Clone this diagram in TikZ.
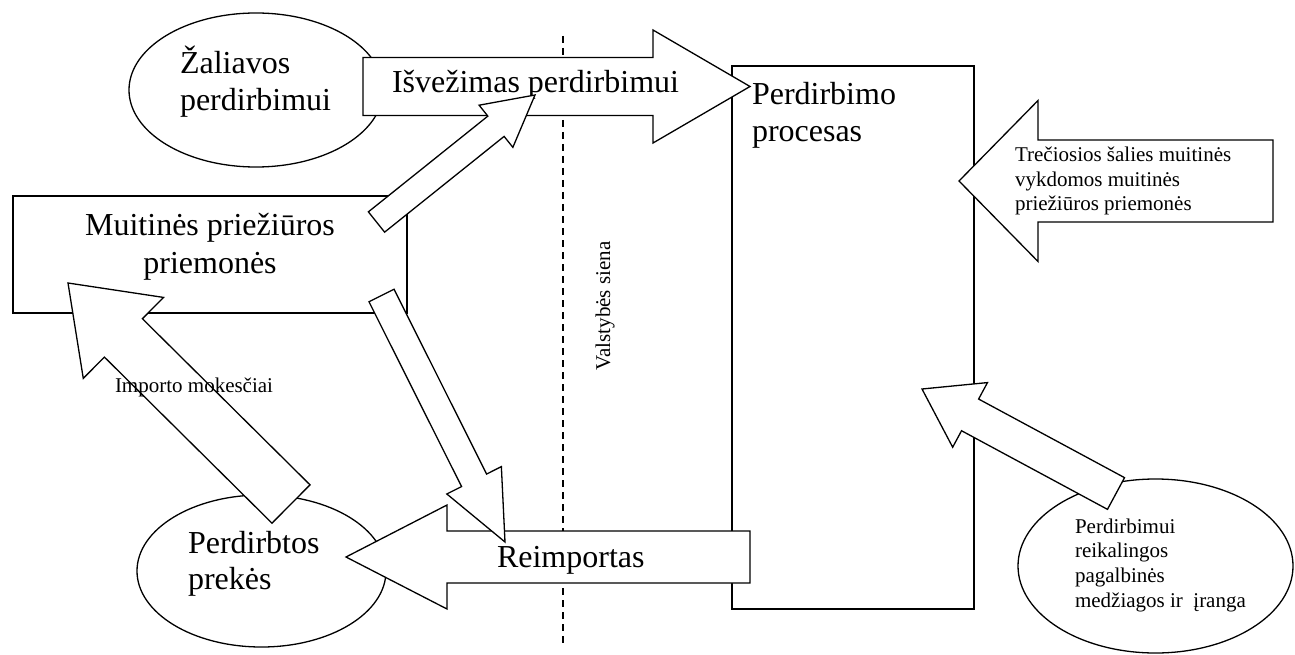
\documentclass[tikz,border=0pt]{standalone}
\usepackage{fontspec}
\setmainfont{Liberation Serif}
\usetikzlibrary{calc,shapes.geometric}

\newcommand\leftlines[2]{\vtop{\baselineskip=#1\relax\lineskiplimit=-100pt\lineskip=0pt\halign{##\hfil\cr#2\crcr}}}
\newcommand\centerlines[2]{\vtop{\baselineskip=#1\relax\lineskiplimit=-100pt\lineskip=0pt\halign{\hfil##\hfil\cr#2\crcr}}}
\newcommand\bigf{\fontsize{32pt}{37pt}\selectfont}
\newcommand\smallf{\fontsize{21pt}{24.5pt}\selectfont}

% block arrow: #1 name, #2 tail, #3 tip, #4 shaft half width, #5 head half width, #6 head length
\newcommand\blockarrow[6]{%
  \coordinate (#1-t) at #2;
  \coordinate (#1-p) at #3;
  \coordinate (#1-b) at ($(#1-p)!#6!(#1-t)$);
  \draw[shapeline] ($(#1-t)!#4!90:(#1-p)$) -- ($(#1-b)!#4!90:(#1-p)$)
     -- ($(#1-b)!#5!90:(#1-p)$) -- (#1-p) -- ($(#1-b)!#5!-90:(#1-p)$)
     -- ($(#1-b)!#4!-90:(#1-p)$) -- ($(#1-t)!#4!-90:(#1-p)$) -- cycle;
}

\tikzset{
  shapeline/.style={draw=black, line width=1.3pt, fill=white, line join=miter},
  ell/.style={shapeline, ellipse, inner sep=0pt},
  box/.style={shapeline, rectangle, inner sep=0pt},
  border/.style={draw=black, line width=1.3pt, dash pattern=on 7pt off 5pt},
  txt/.style={inner sep=0pt, outer sep=0pt, text=black},
}

\begin{document}
\begin{tikzpicture}[x=1pt,y=-1pt]
\useasboundingbox[fill=white] (0,0) rectangle (1295,655);

% frames
\node (zal) [ell, minimum width=254pt, minimum height=154pt] at (256,90) {};
\node (perdprek) [ell, minimum width=249pt, minimum height=152pt] at (261.5,571) {};
\node (pagalb) [ell, minimum width=275pt, minimum height=174pt] at (1155.5,566) {};
\node (proc) [box, minimum width=242pt, minimum height=543pt] at (853,337.5) {};
\node (muit) [box, minimum width=394pt, minimum height=117pt] at (210,254.5) {};

% state border
\coordinate (d1) at (563,36);
\coordinate (d2) at (563,646);
\draw[border] (d1) -- (d2);

% big arrows
\blockarrow{isv}{(363,86.5)}{(750,86.5)}{29pt}{56.5pt}{97pt}
\blockarrow{reim}{(750,557)}{(346,557)}{26pt}{52pt}{101pt}
\blockarrow{trec}{(1273,181)}{(959,181)}{41pt}{80.5pt}{79pt}
\blockarrow{imp}{(291,504)}{(68,283)}{27pt}{57pt}{78pt}

% texts inside the big arrows
\node (isvt) [txt, anchor=base west] at (392,93) {\bigf Išvežimas perdirbimui};
\node (reimt) [txt, anchor=base west] at (497,567) {\bigf Reimportas};
\node (trect) [txt, anchor=base west] at (1015,162) {\smallf\leftlines{24.5pt}{Trečiosios šalies muitinės\cr vykdomos muitinės\cr priežiūros priemonės}};

% thin arrows
\blockarrow{th1}{(376.5,222)}{(535,95)}{13pt}{27pt}{50pt}
\blockarrow{th2}{(381.5,295.5)}{(505,542)}{14pt}{30.5pt}{69pt}
\blockarrow{th3}{(1116,493.5)}{(922,389)}{18pt}{36.7pt}{54.6pt}

% remaining texts
\node (zalt) [txt, anchor=base west] at (180,74) {\bigf\leftlines{36.5pt}{Žaliavos\cr perdirbimui}};
\node (proct) [txt, anchor=base west] at (752,105) {\bigf\leftlines{37pt}{Perdirbimo\cr procesas}};
\node (muitt) [txt, anchor=base] at (210,235) {\bigf\centerlines{38pt}{Muitinės priežiūros\cr priemonės}};
\node (perdprekt) [txt, anchor=base west] at (188,553) {\bigf\leftlines{36pt}{Perdirbtos\cr prekės}};
\node (pagalbt) [txt, anchor=base west] at (1075,533) {\smallf\leftlines{24.7pt}{Perdirbimui\cr reikalingos\cr pagalbinės\cr medžiagos ir \ įranga}};
\node (impt) [txt, anchor=base west] at (115,392) {\smallf Importo mokesčiai};
\node (siena) [txt, anchor=base, rotate=90] at (610,306) {\smallf Valstybės siena};
\end{tikzpicture}
\end{document}
